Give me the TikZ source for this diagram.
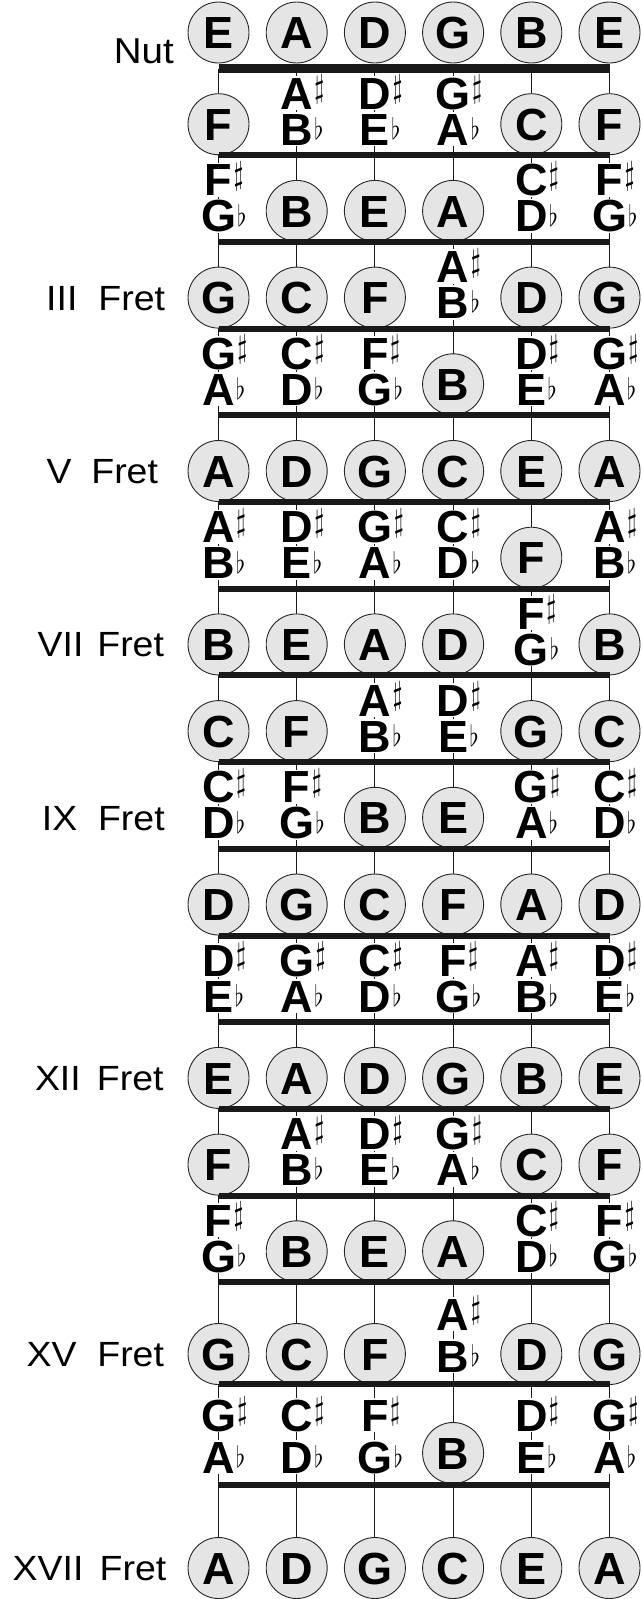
\documentclass[tikz,border=0pt]{standalone}
\usepackage{fontspec}
\usepackage{graphicx}
\setmainfont{Liberation Sans}
\newfontfamily\notefont{Liberation Sans Bold}
\newfontfamily\labfont{Liberation Sans}[FakeStretch=1.07]
\newcommand{\shpglyph}{\resizebox*{10pt}{29pt}{$\sharp$}}
\newcommand{\flatglyph}{\resizebox*{9pt}{22pt}{$\flat$}}
\begin{document}
\begin{tikzpicture}[x=1pt,y=-1pt,
  notecirc/.style={circle,draw=black!85,line width=0.9pt,fill=black!10,minimum size=61pt,inner sep=0pt,
    font=\notefont\fontsize{45}{45}\selectfont,text height=32.2pt,text depth=0pt},
  accletter/.style={fill=white,inner sep=1pt,anchor=base,
    font=\notefont\fontsize{45}{45}\selectfont,text height=32.2pt,text depth=0pt},
  accsym/.style={inner sep=0pt,anchor=south west},
  fretlabel/.style={inner sep=0pt,anchor=west,font=\labfont\fontsize{35}{35}\selectfont,text height=25pt,text depth=0pt},
  stringline/.style={line width=1.1pt,black!90},
  fretbar/.style={line width=6pt,black!90},
  nutbar/.style={line width=9.5pt,black!90}]
\useasboundingbox (0,0) rectangle (642,1599);
% strings
\foreach \s/\x in {1/218.5,2/296.7,3/374.9,4/453.1,5/531.3,6/609.5}{
  \coordinate (top\s) at (\x,68.5);
  \coordinate (bot\s) at (\x,1599);
  \draw[stringline] (top\s) -- (bot\s);
}
% notes
\foreach \r/\cy/\ub/\lb in {0/32.5/0/0,1/124.2/109.2/145.2,2/210.9/195.9/231.9,3/297.6/282.6/318.6,
  4/384.3/369.3/405.3,5/471.0/456.0/492.0,6/557.7/542.7/578.7,7/644.4/629.4/665.4,
  8/731.1/716.1/752.1,9/817.8/802.8/838.8,10/904.5/889.5/925.5,11/991.2/976.2/1012.2,
  12/1077.9/1062.9/1098.9,13/1164.6/1149.6/1185.6,14/1251.3/1236.3/1272.3,
  15/1354/1330/1372,16/1453/1431/1473,17/1568/0/0}{
  \foreach \s/\o/\x in {1/4/218.5,2/9/296.7,3/2/374.9,4/7/453.1,5/11/531.3,6/4/609.5}{
    \pgfmathtruncatemacro{\n}{mod(\o+\r,12)}
    \pgfmathtruncatemacro{\isnat}{{1,0,1,0,1,1,0,1,0,1,0,1}[\n]}
    \pgfmathparse{{"C","C","D","D","E","F","F","G","G","A","A","B","C"}[\n]}\let\nmA\pgfmathresult
    \pgfmathparse{{"C","C","D","D","E","F","F","G","G","A","A","B","C"}[\n+1]}\let\nmB\pgfmathresult
    \ifnum\isnat=1
      \node[notecirc] (n\r-\s) at (\x,\cy) {\nmA};
    \else
      \node[accletter] (u\r-\s) at (\x,\ub) {\nmA};
      \node[accsym] (us\r-\s) at ([yshift=5pt]u\r-\s.base east) {\shpglyph};
      \node[accletter] (l\r-\s) at (\x,\lb) {\nmB};
      \node[accsym] (ls\r-\s) at ([yshift=5.5pt]l\r-\s.base east) {\flatglyph};
    \fi
  }
}
% frets
\draw[nutbar] (218.5,68.5) coordinate (nutL) -- (609.5,68.5) coordinate (nutR);
\foreach \k/\y in {1/155.2,2/241.9,3/328.6,4/415.3,5/502.0,6/588.7,7/675.4,8/762.1,9/848.8,
  10/935.5,11/1022.2,12/1108.9,13/1195.6,14/1282.3,15/1384,16/1485}{
  \draw[fretbar] (218.5,\y) coordinate (fL\k) -- (609.5,\y) coordinate (fR\k);
}
% labels
\node[inner sep=0pt,anchor=base east,font=\labfont\fontsize{36}{36}\selectfont] (lnut) at (174,63) {Nut};
\foreach \t/\cy/\wx/\w [count=\i] in {III/297.6/46/52.2,V/471.0/46.5/44.7,VII/644.4/37.5/59.7,
  IX/817.8/41.7/56.2,XII/1077.9/34.8/62,XV/1354/26.5/70.7,XVII/1568/12.5/87}{
  \node[fretlabel] (lab\i) at (\wx,\cy) {\makebox[\w pt][l]{\t}Fret};
}
\end{tikzpicture}
\end{document}
